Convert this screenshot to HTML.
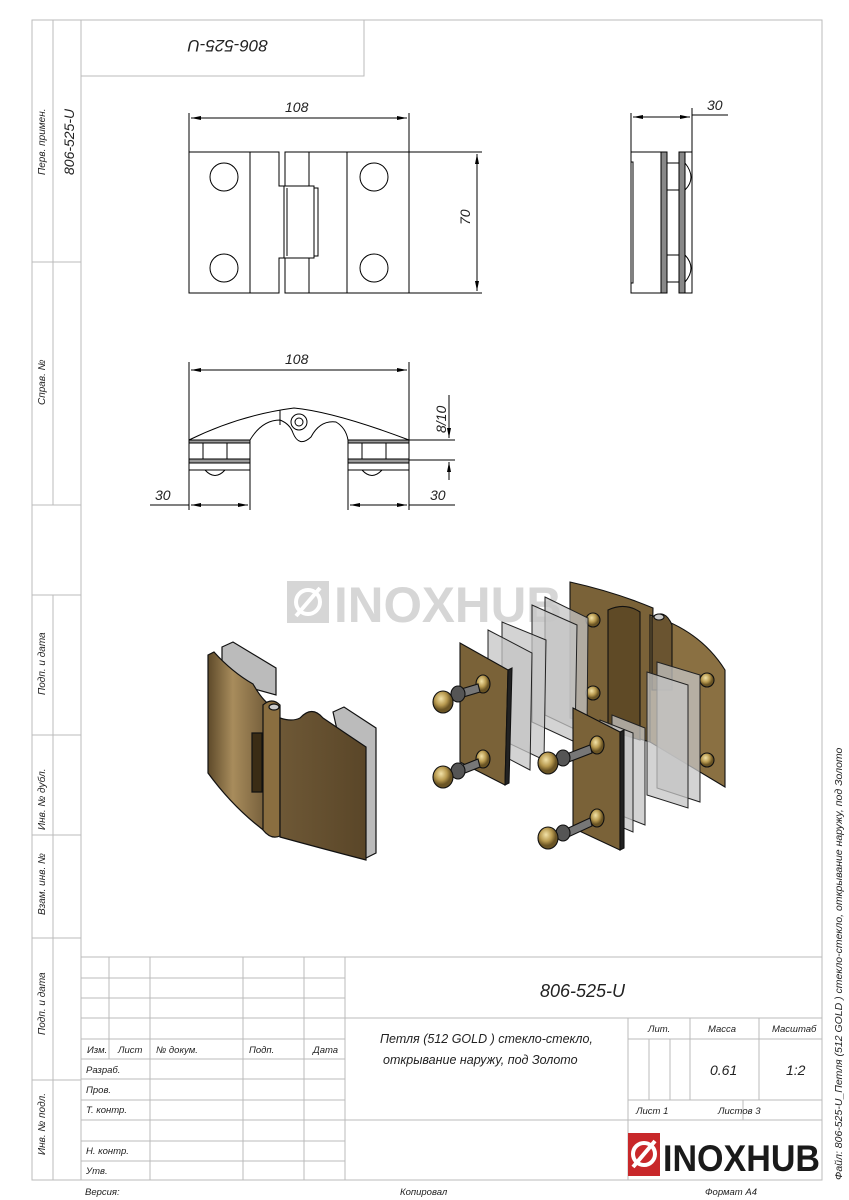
<!DOCTYPE html>
<html><head><meta charset="utf-8"><style>
html,body{margin:0;padding:0;background:#fff}
svg{display:block}
text{font-family:"Liberation Sans","DejaVu Sans",sans-serif;font-style:italic;fill:#222}
</style></head><body>
<svg width="849" height="1200" viewBox="0 0 849 1200" xmlns="http://www.w3.org/2000/svg">
<defs>
<linearGradient id="gl" x1="0" x2="1"><stop offset="0" stop-color="#5e4a2a"/><stop offset=".4" stop-color="#a88c5c"/><stop offset="1" stop-color="#6e5836"/></linearGradient>
<linearGradient id="gr" x1="0" x2="1"><stop offset="0" stop-color="#6e5836"/><stop offset="1" stop-color="#5a4628"/></linearGradient>
<radialGradient id="cap" cx=".4" cy=".35"><stop offset="0" stop-color="#f2e2a8"/><stop offset=".6" stop-color="#b89a50"/><stop offset="1" stop-color="#6a5424"/></radialGradient>
<marker id="a" markerWidth="10" markerHeight="4" refX="10" refY="2" orient="auto-start-reverse" markerUnits="userSpaceOnUse"><path d="M0,0 L10,2 L0,4z" fill="#000"/></marker>
</defs>
<g fill="none" stroke="#bbb" stroke-width="1">
<path d="M32,20 H822 V1180 H32 Z"/>
<line x1="53" y1="20" x2="53" y2="505"/><line x1="81" y1="20" x2="81" y2="1180"/>
<line x1="53" y1="595" x2="53" y2="1180"/>
<line x1="32" y1="262" x2="81" y2="262"/><line x1="32" y1="505" x2="81" y2="505"/>
<line x1="32" y1="595" x2="81" y2="595"/><line x1="32" y1="735" x2="81" y2="735"/>
<line x1="32" y1="835" x2="81" y2="835"/><line x1="32" y1="938" x2="81" y2="938"/>
<line x1="32" y1="1080" x2="81" y2="1080"/>
<path d="M81,76 H364 V20"/>
<line x1="81" y1="957" x2="822" y2="957"/>
<line x1="81" y1="978" x2="345" y2="978"/><line x1="81" y1="998" x2="345" y2="998"/>
<line x1="81" y1="1018" x2="822" y2="1018"/><line x1="81" y1="1039" x2="345" y2="1039"/>
<line x1="81" y1="1059" x2="345" y2="1059"/><line x1="81" y1="1079" x2="345" y2="1079"/>
<line x1="81" y1="1100" x2="345" y2="1100"/><line x1="81" y1="1120" x2="822" y2="1120"/>
<line x1="81" y1="1141" x2="345" y2="1141"/><line x1="81" y1="1161" x2="345" y2="1161"/>
<line x1="628" y1="1039" x2="822" y2="1039"/><line x1="628" y1="1100" x2="822" y2="1100"/>
<line x1="109" y1="957" x2="109" y2="1059"/><line x1="150" y1="957" x2="150" y2="1180"/>
<line x1="243" y1="957" x2="243" y2="1180"/><line x1="304" y1="957" x2="304" y2="1180"/>
<line x1="345" y1="957" x2="345" y2="1180"/><line x1="628" y1="1018" x2="628" y2="1180"/>
<line x1="649" y1="1039" x2="649" y2="1100"/><line x1="670" y1="1039" x2="670" y2="1100"/>
<line x1="690" y1="1018" x2="690" y2="1100"/><line x1="743" y1="1100" x2="743" y2="1120"/>
<line x1="759" y1="1018" x2="759" y2="1100"/>
</g>
<g font-size="10">
<text transform="translate(45,175) rotate(-90)">Перв. примен.</text>
<text transform="translate(74,175) rotate(-90)" font-size="14">806-525-U</text>
<text transform="translate(45,405) rotate(-90)">Справ. №</text>
<text transform="translate(45,695) rotate(-90)">Подп. и дата</text>
<text transform="translate(45,830) rotate(-90)">Инв. № дубл.</text>
<text transform="translate(45,915) rotate(-90)">Взам. инв. №</text>
<text transform="translate(45,1035) rotate(-90)">Подп. и дата</text>
<text transform="translate(45,1155) rotate(-90)">Инв. № подл.</text>
<text transform="translate(842,1180) rotate(-90)" font-size="10.5">Файл: 806-525-U_Петля (512 GOLD ) стекло-стекло, открывание наружу, под Золото</text>
</g>
<text transform="translate(268,40) rotate(180)" font-size="17">806-525-U</text>
<text x="540" y="997" font-size="18">806-525-U</text>
<g font-size="9.5">
<text x="87" y="1053">Изм.</text><text x="118" y="1053">Лист</text><text x="156" y="1053">№ докум.</text>
<text x="249" y="1053">Подп.</text><text x="313" y="1053">Дата</text>
<text x="86" y="1073">Разраб.</text><text x="86" y="1093">Пров.</text><text x="86" y="1113">Т. контр.</text>
<text x="86" y="1154">Н. контр.</text><text x="86" y="1174">Утв.</text>
<text x="648" y="1032">Лит.</text><text x="708" y="1032">Масса</text><text x="772" y="1032">Масштаб</text>
<text x="636" y="1114">Лист 1</text><text x="718" y="1114">Листов 3</text>
<text x="85" y="1195">Версия:</text><text x="400" y="1195">Копировал</text><text x="705" y="1195">Формат А4</text>
</g>
<text x="380" y="1043" font-size="12.5">Петля (512 GOLD ) стекло-стекло,</text>
<text x="383" y="1064" font-size="12.5">открывание наружу, под Золото</text>
<text x="710" y="1075" font-size="14">0.61</text><text x="786" y="1075" font-size="14">1:2</text>
<rect x="628" y="1133" width="32" height="43" fill="#c8282a"/>
<circle cx="644" cy="1154" r="11" fill="none" stroke="#fff" stroke-width="4"/>
<line x1="633" y1="1167" x2="655" y2="1141" stroke="#fff" stroke-width="4"/>
<text x="663" y="1171" font-size="37" style="fill:#1a1a1a;font-style:normal;font-weight:bold" textLength="157" lengthAdjust="spacingAndGlyphs">INOXHUB</text>
<rect x="287" y="581" width="42" height="42" fill="#d6d6d6"/>
<circle cx="308" cy="602" r="12" fill="none" stroke="#fff" stroke-width="4"/>
<line x1="296" y1="616" x2="320" y2="588" stroke="#fff" stroke-width="4"/>
<text x="334" y="622" font-size="50" style="fill:#d6d6d6;font-style:normal;font-weight:bold" textLength="228" lengthAdjust="spacingAndGlyphs">INOXHUB</text>
<g fill="none" stroke="#000" stroke-width="1">
<path d="M189,152 H279 V186 H284 V258 H279 V293 H189 Z"/>
<line x1="250" y1="152" x2="250" y2="293"/>
<path d="M285,152 H409 V293 H285 V258 H314 V186 H285 Z"/>
<line x1="309" y1="152" x2="309" y2="186"/><line x1="309" y1="258" x2="309" y2="293"/>
<line x1="347" y1="152" x2="347" y2="293"/>
<path d="M314,188 H318 V256 H314"/><line x1="287" y1="188" x2="287" y2="256"/>
<circle cx="224" cy="177" r="14"/><circle cx="224" cy="268" r="14"/>
<circle cx="374" cy="177" r="14"/><circle cx="374" cy="268" r="14"/>
<line x1="189" y1="113" x2="189" y2="152"/><line x1="409" y1="113" x2="409" y2="152"/>
<line x1="191" y1="118" x2="407" y2="118" marker-start="url(#a)" marker-end="url(#a)"/>
<line x1="409" y1="152" x2="482" y2="152"/><line x1="409" y1="293" x2="482" y2="293"/>
<line x1="477" y1="154" x2="477" y2="291" marker-start="url(#a)" marker-end="url(#a)"/>
<path d="M631,152 H661 V293 H631 Z"/><path d="M631,162 H633 V283 H631"/>
<rect x="661" y="152" width="6" height="141" fill="#888"/>
<rect x="679" y="152" width="6" height="141" fill="#888"/>
<path d="M685,152 H692 V293 H685"/>
<path d="M667,163 H679 M667,190 H679 M667,255 H679 M667,282 H679"/>
<path d="M685,163 Q697,178 685,190 M685,255 Q697,268 685,282"/>
<line x1="631" y1="113" x2="631" y2="152"/><line x1="692" y1="108" x2="692" y2="152"/>
<line x1="633" y1="117" x2="690" y2="117" marker-start="url(#a)" marker-end="url(#a)"/>
<line x1="692" y1="115" x2="728" y2="115"/>
<path d="M189,440 Q240,415 294,408 Q335,412 409,440"/>
<path d="M189,440 H250 Q262,420 280,420 Q290,424 293,433 Q299,448 311,437 Q320,420 336,422 Q346,428 348,440 H409"/>
<line x1="280" y1="410" x2="280" y2="425"/>
<circle cx="299" cy="422" r="8"/><circle cx="299" cy="422" r="4"/>
<rect x="189" y="440" width="61" height="3" fill="#999"/><rect x="348" y="440" width="61" height="3" fill="#999"/>
<path d="M189,443 V470 H250 V440 M348,440 V470 H409 V443"/>
<rect x="189" y="459" width="61" height="4" fill="#999"/><rect x="348" y="459" width="61" height="4" fill="#999"/>
<path d="M203,443 V459 M227,443 V459 M362,443 V459 M386,443 V459"/>
<path d="M205,470 Q215,481 225,470 M362,470 Q372,481 382,470"/>
<line x1="189" y1="362" x2="189" y2="440"/><line x1="409" y1="362" x2="409" y2="440"/>
<line x1="191" y1="370" x2="407" y2="370" marker-start="url(#a)" marker-end="url(#a)"/>
<line x1="409" y1="440" x2="455" y2="440"/><line x1="409" y1="460" x2="455" y2="460"/>
<line x1="449" y1="395" x2="449" y2="438" marker-end="url(#a)"/>
<line x1="449" y1="462" x2="449" y2="480" marker-start="url(#a)"/>
<line x1="189" y1="470" x2="189" y2="510"/><line x1="250" y1="470" x2="250" y2="510"/>
<line x1="348" y1="470" x2="348" y2="510"/><line x1="409" y1="470" x2="409" y2="510"/>
<line x1="191" y1="505" x2="248" y2="505" marker-start="url(#a)" marker-end="url(#a)"/>
<line x1="150" y1="505" x2="189" y2="505"/>
<line x1="350" y1="505" x2="407" y2="505" marker-start="url(#a)" marker-end="url(#a)"/>
<line x1="409" y1="505" x2="455" y2="505"/>
</g>
<g font-size="14">
<text x="285" y="112">108</text><text x="285" y="364">108</text>
<text x="707" y="110">30</text>
<text transform="translate(470,225) rotate(-90)">70</text>
<text transform="translate(446,433) rotate(-90)">8/10</text>
<text x="155" y="500">30</text><text x="430" y="500">30</text>
</g>
<g stroke="#111" stroke-width="1.2">
<path d="M222,647 L233,642 L276,668 L276,695 L222,680 Z" fill="#bbb"/>
<path d="M333,712 L344,707 L376,728 L376,853 L366,858 Z" fill="#bbb"/>
<path d="M208,655 L214,652 Q232,672 253,684 Q262,700 270,705 L270,835 Q235,810 208,773 Z" fill="url(#gl)"/>
<path d="M263,705 Q272,697 280,705 L280,836 Q271,840 263,830 Z" fill="#8a6e40"/>
<path d="M252,733 L262,733 L262,792 L252,792 Z" fill="#3a2c15"/>
<path d="M280,718 Q292,722 300,718 Q312,705 323,718 Q345,733 366,747 L366,860 Q320,848 280,837 Z" fill="url(#gr)"/>
<ellipse cx="274" cy="707" rx="5" ry="3" fill="#ccc"/>
</g>
<g stroke="#111" stroke-width="1.1">
<path d="M570,582 Q615,592 653,608 L650,742 L570,718 Z" fill="#7a6238"/>
<path d="M608,610 Q625,602 640,612 L640,740 L608,730 Z" fill="#5f4a26"/>
<path d="M650,615 Q700,630 725,670 L725,787 L650,742 Z" fill="#8a7042"/>
<path d="M652,617 Q665,608 672,625 L672,690 L652,690 Z" fill="#6a5430"/>
<ellipse cx="659" cy="617" rx="5" ry="3" fill="#ccc"/>
<circle cx="593" cy="620" r="7" fill="url(#cap)"/><circle cx="593" cy="693" r="7" fill="url(#cap)"/>
<circle cx="707" cy="680" r="7" fill="url(#cap)"/><circle cx="707" cy="760" r="7" fill="url(#cap)"/>
</g>
<g stroke="#222" stroke-width="1" fill="#c4c4c4" fill-opacity="0.75">
<path d="M545,597 L588,618 L587,735 L545,715 Z"/>
<path d="M532,605 L577,625 L575,742 L532,722 Z"/>
<path d="M502,622 L546,640 L544,760 L502,740 Z"/>
<path d="M488,630 L532,653 L530,770 L488,748 Z"/>
<path d="M657,662 L700,675 L700,802 L657,788 Z"/>
<path d="M647,672 L688,685 L688,808 L647,795 Z"/>
<path d="M612,715 L645,728 L645,825 L612,812 Z"/>
<path d="M600,720 L633,733 L633,832 L600,818 Z"/>
</g>
<g stroke="#111" stroke-width="1.1">
<path d="M460,643 L508,670 L505,785 L460,762 Z" fill="#7a6238"/>
<path d="M508,670 L512,668 L509,783 L505,785 Z" fill="#222"/>
<path d="M573,708 L620,732 L620,850 L573,828 Z" fill="#7a6238"/>
<path d="M620,732 L624,730 L624,848 L620,850 Z" fill="#222"/>
<ellipse cx="483" cy="684" rx="7" ry="9" fill="url(#cap)"/><ellipse cx="483" cy="759" rx="7" ry="9" fill="url(#cap)"/>
<ellipse cx="597" cy="745" rx="7" ry="9" fill="url(#cap)"/><ellipse cx="597" cy="818" rx="7" ry="9" fill="url(#cap)"/>
<path d="M458,690 L478,684 L480,692 L460,698 Z" fill="#777"/><ellipse cx="458" cy="694" rx="7" ry="8" fill="#555"/>
<path d="M458,767 L478,759 L480,767 L460,775 Z" fill="#777"/><ellipse cx="458" cy="771" rx="7" ry="8" fill="#555"/>
<path d="M564,755 L590,745 L592,753 L566,763 Z" fill="#777"/><ellipse cx="563" cy="758" rx="7" ry="8" fill="#555"/>
<path d="M564,830 L590,818 L592,826 L566,838 Z" fill="#777"/><ellipse cx="563" cy="833" rx="7" ry="8" fill="#555"/>
<ellipse cx="443" cy="702" rx="10" ry="11" fill="url(#cap)"/><ellipse cx="443" cy="777" rx="10" ry="11" fill="url(#cap)"/>
<ellipse cx="548" cy="763" rx="10" ry="11" fill="url(#cap)"/><ellipse cx="548" cy="838" rx="10" ry="11" fill="url(#cap)"/>
</g>
</svg>
</body></html>
